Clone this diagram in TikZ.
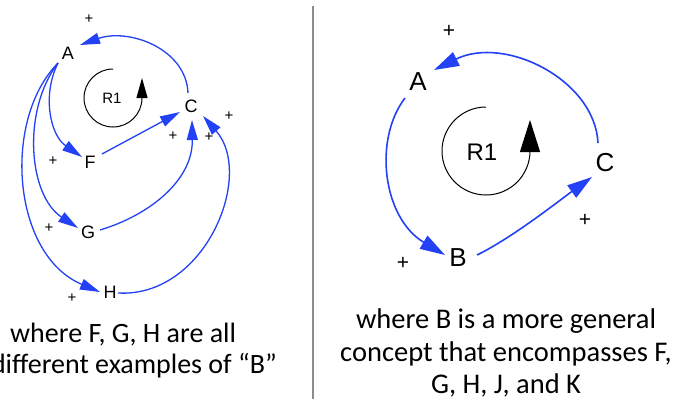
\documentclass[tikz,border=0pt]{standalone}
\usepackage{fontspec}
\setmainfont{Liberation Sans}
\newfontfamily\capfont{Carlito}
\usetikzlibrary{arrows.meta}
\definecolor{linkblue}{RGB}{35,65,245}
\definecolor{divgray}{RGB}{140,140,140}
\tikzset{
  var/.style={inner sep=1pt, font=\fontsize{18}{20}\selectfont},
  bigvar/.style={inner sep=2pt, font=\fontsize{26}{30}\selectfont},
  pol/.style={inner sep=0pt, font=\fontsize{15}{17}\selectfont},
  bigpol/.style={inner sep=0pt, font=\fontsize{21}{23}\selectfont},
  link/.style={draw=linkblue, line width=1.3pt, -{Triangle[length=20pt,width=11pt]}},
  biglink/.style={draw=linkblue, line width=1.6pt, -{Triangle[length=25pt,width=15pt]}},
  loopmark/.style={draw=black, line width=1pt},
  caption/.style={inner sep=0pt, font=\capfont\fontsize{28.5}{34}\selectfont},
  lcaption/.style={inner sep=0pt, font=\capfont\fontsize{28}{31}\selectfont}
}
\begin{document}
\begin{tikzpicture}[x=1pt,y=-1pt]
\useasboundingbox (0,0) rectangle (678,399);
\fill[white] (0,0) rectangle (678,399);

% ---------- left diagram ----------
\node[var] (A) at (68,53) {A};
\node[var] (C) at (191,106) {C};
\node[var] (F) at (90,162) {F};
\node[var] (G) at (88,232) {G};
\node[var] (H) at (110,292) {H};
\node[font=\fontsize{15}{18}\selectfont, inner sep=0pt] (R) at (112,98) {R1};

\coordinate (As) at (58,63);
\coordinate (Ae) at (80,45);
\coordinate (Cs) at (188,93);
\coordinate (Fe) at (82,157);
\coordinate (Ge) at (78,228);
\coordinate (He) at (100,292);
\coordinate (Fs) at (102,154);
\coordinate (Gs) at (100,230);
\coordinate (Hs) at (118,293);
\coordinate (CeF) at (180,112);
\coordinate (CeG) at (192,120);
\coordinate (CeH) at (203,116);

\draw[link] (Cs) .. controls (186,48) and (128,28) .. (Ae);
\draw[link] (As) .. controls (42,95) and (50,135) .. (Fe);
\draw[link] (As) .. controls (22,110) and (28,195) .. (Ge);
\draw[link] (As) .. controls (2,120) and (12,255) .. (He);
\draw[link] (Fs) -- (CeF);
\draw[link] (Gs) .. controls (150,215) and (193,180) .. (CeG);
\draw[link] (Hs) .. controls (205,298) and (255,175) .. (CeH);

\coordinate (Rl) at (142,78);
\draw[loopmark, -{Triangle[length=20pt,width=11pt]}] (113,69) arc[start angle=-90, end angle=-360, radius=29] -- (Rl);

\node[pol] (p1) at (89,19) {+};
\node[pol] (p2) at (53,161) {+};
\node[pol] (p3) at (49,228) {+};
\node[pol] (p4) at (72,298) {+};
\node[pol] (p5) at (173,136) {+};
\node[pol] (p6) at (209,137) {+};
\node[pol] (p7) at (229,116) {+};

\node[lcaption, anchor=base west] (t1) at (10,342) {where F, G, H are all};
\node[lcaption, anchor=base east] (t2) at (277,373) {different examples of “B”};

% ---------- divider ----------
\coordinate (d1) at (313,6);
\coordinate (d2) at (313,399);
\draw[divgray, line width=1.2pt] (d1) -- (d2);

% ---------- right diagram ----------
\node[bigvar] (A2) at (418,82) {A};
\node[bigvar] (C2) at (605,163) {C};
\node[bigvar] (B2) at (458,258) {B};
\node[font=\fontsize{24}{28}\selectfont, inner sep=0pt] (R2) at (482,152) {R1};

\coordinate (A2s) at (405,98);
\coordinate (A2e) at (434,70);
\coordinate (C2s) at (598,143);
\coordinate (C2e) at (592,177);
\coordinate (B2s) at (477,255);
\coordinate (B2e) at (445,255);

\draw[biglink] (C2s) .. controls (595,80) and (505,35) .. (A2e);
\draw[biglink] (A2s) .. controls (373,140) and (383,218) .. (B2e);
\draw[biglink] (B2s) .. controls (512,238) and (560,200) .. (C2e);

\draw[loopmark, -{Triangle[length=32pt,width=20pt]}] (486,107) arc[start angle=-90, end angle=-360, radius=44] -- (530,120);

\node[bigpol] (q1) at (449,31) {+};
\node[bigpol] (q2) at (403,263) {+};
\node[bigpol] (q3) at (585,220) {+};

\node[caption, anchor=base] (t3) at (506,328) {where B is a more general};
\node[caption, anchor=base] (t4) at (506,361) {concept that encompasses F,};
\node[caption, anchor=base] (t5) at (506,393) {G, H, J, and K};
\end{tikzpicture}
\end{document}
